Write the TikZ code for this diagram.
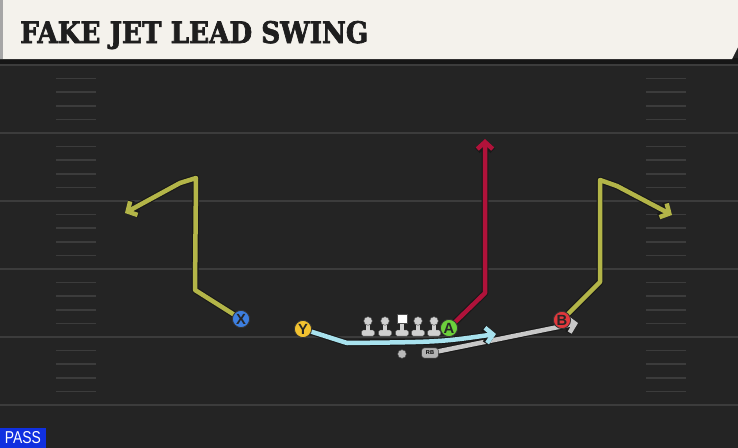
\documentclass[tikz,border=0pt]{standalone}
\usepackage{fontspec}
\usepackage{graphicx}
\newfontfamily\titlefont{DejaVu Serif Bold}[FakeBold=2.5]
\newfontfamily\labelfont{Liberation Sans}
\usetikzlibrary{arrows.meta, backgrounds}
\definecolor{fieldgray}{RGB}{36, 36, 36}
\definecolor{banddark}{RGB}{22, 22, 22}
\definecolor{yardgray}{RGB}{60, 60, 60}
\definecolor{bannercream}{RGB}{244, 242, 236}
\definecolor{titleink}{RGB}{30, 30, 30}
\definecolor{passblue}{RGB}{16, 48, 224}
\definecolor{routeolive}{RGB}{179, 181, 72}
\definecolor{routered}{RGB}{176, 18, 58}
\definecolor{routeblue}{RGB}{168, 226, 238}
\definecolor{routegrey}{RGB}{200, 200, 200}
\definecolor{xblue}{RGB}{61, 127, 224}
\definecolor{yyellow}{RGB}{242, 194, 48}
\definecolor{agreen}{RGB}{108, 208, 60}
\definecolor{bred}{RGB}{224, 56, 60}
\definecolor{linegray}{RGB}{208, 208, 208}

\tikzset{
  yardline/.style={yardgray, line width=1.4pt},
  hashmark/.style={yardgray, line width=1.1pt},
  player/.style={circle, draw=black!80, line width=0.6pt, minimum size=0.43cm,
    inner sep=0pt, font=\labelfont\bfseries\fontsize{10.5}{10.5}\selectfont, text=black!85},
  route/.style={line width=3.2pt, line join=round, line cap=round,
    -{Straight Barb[length=5pt, width=11pt]}},
  routeedge/.style={route, black!90, line width=4.8pt},
}

\begin{document}
\begin{tikzpicture}[x=0.025cm, y=-0.025cm]
  \useasboundingbox (0,0) rectangle (738,448);

  % field
  \begin{scope}[on background layer]
    \fill[fieldgray] (0,0) rectangle (738,448);
    \fill[banddark] (0,58) rectangle (738,66);
    \foreach \ly in {65,133,201,269,337,405}
      \draw[yardline] (0,\ly) -- (738,\ly);
    \foreach \ly in {65,133,201,269,337}
      \foreach \k in {1,...,4} {
        \draw[hashmark] (56,{\ly+\k*13.6}) -- (96,{\ly+\k*13.6});
        \draw[hashmark] (646,{\ly+\k*13.6}) -- (686,{\ly+\k*13.6});
      }
  \end{scope}

  % title banner
  \fill[bannercream] (0,0) -- (738,0) -- (738,47) -- (732,59) -- (0,59) -- cycle;
  \fill[gray!70] (0,0) rectangle (3,59);
  \node[anchor=base west, inner sep=0pt, text=titleink] (title) at (20,43)
    {\resizebox{8.7cm}{0.55cm}{\titlefont FAKE JET LEAD SWING}};

  % line
  \foreach \lx in {368,385,418,434} {
    \fill[linegray, draw=black!70, line width=0.3pt, rounded corners=1.2pt]
      (\lx-6.5,330) rectangle (\lx+6.5,336);
    \fill[linegray] (\lx-2.2,322) rectangle (\lx+2.2,331);
    \fill[linegray, draw=black!70, line width=0.3pt] (\lx,321) circle (4.3);
  }
  \fill[linegray, draw=black!70, line width=0.3pt, rounded corners=1.2pt]
    (395.5,330) rectangle (408.5,336);
  \fill[linegray] (399.8,321) rectangle (404.2,331);
  \fill[white, draw=black!70, line width=0.3pt] (397,314) rectangle (407,323);
  \fill[gray!55, draw=black!70, line width=0.3pt] (402,354) circle (4.3);

  % players
  \node[player, fill=xblue] (X) at (241,319) {X};
  \node[player, fill=yyellow] (Y) at (303,329) {Y};
  \node[player, fill=agreen] (A) at (449,328) {A};
  \node[player, fill=bred] (B) at (562,320) {B};
  \node[draw=black!80, fill=gray!60, rounded corners=2pt, minimum width=0.42cm,
        minimum height=0.26cm, inner sep=0pt, line width=0.4pt,
        font=\labelfont\bfseries\fontsize{4}{4}\selectfont] (RB) at (430,353) {RB};

  \node[fill=passblue, text=white, minimum width=1.15cm, minimum height=0.5cm,
        inner sep=0pt] (pass) at (23,438) {\resizebox{0.9cm}{0.3cm}{\labelfont PASS}};

  % routes
  \coordinate (xBreak) at (195,290);
  \coordinate (xTop) at (196,178);
  \coordinate (xBend) at (180,183);
  \coordinate (xEnd) at (125,213);
  \coordinate (bBreak) at (600,282);
  \coordinate (bTop) at (600,180);
  \coordinate (bBend) at (617,186);
  \coordinate (bEnd) at (672,215);
  \coordinate (aBreak) at (485,293);
  \coordinate (aEnd) at (485,139);
  \coordinate (yBend) at (347,343);
  \coordinate (yEnd) at (496,334);
  \coordinate (rbEnd) at (578,323);

  \begin{scope}[on background layer]
    \draw[routeedge] (RB) -- (rbEnd);
    \draw[route, routegrey] (RB) -- (rbEnd);
    \draw[routeedge] (Y) -- (yBend) .. controls (440,342) .. (yEnd);
    \draw[route, routeblue] (Y) -- (yBend) .. controls (440,342) .. (yEnd);
    \draw[routeedge] (A) -- (aBreak) -- (aEnd);
    \draw[route, routered] (A) -- (aBreak) -- (aEnd);
    \draw[routeedge] (X) -- (xBreak) -- (xTop) -- (xBend) -- (xEnd);
    \draw[route, routeolive] (X) -- (xBreak) -- (xTop) -- (xBend) -- (xEnd);
    \draw[routeedge] (B) -- (bBreak) -- (bTop) -- (bBend) -- (bEnd);
    \draw[route, routeolive] (B) -- (bBreak) -- (bTop) -- (bBend) -- (bEnd);
  \end{scope}
\end{tikzpicture}
\end{document}
